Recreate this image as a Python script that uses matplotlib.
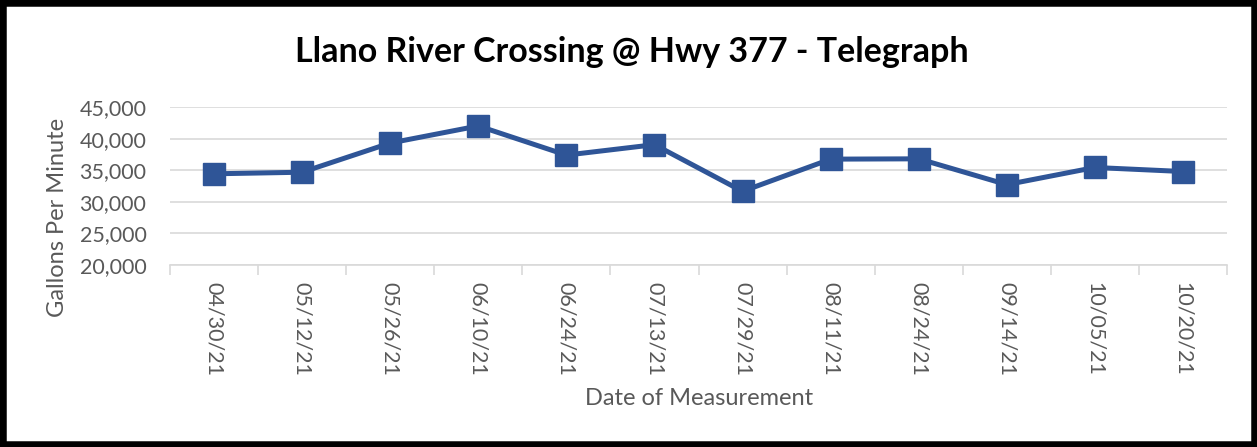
#! /usr/bin/env python3

"""
Flow at the Llano River crossing, gallons per minute by measurement date.
"""

import matplotlib.pyplot as plt
from matplotlib.patches import Rectangle

DATES = [
    '04/30/21', '05/12/21', '05/26/21', '06/10/21', '06/24/21', '07/13/21',
    '07/29/21', '08/11/21', '08/24/21', '09/14/21', '10/05/21', '10/20/21',
]
FLOW_GPM = [
    34430, 34680, 39300, 42000, 37390, 39040,
    31660, 36750, 36800, 32720, 35430, 34790,
]

LINE_COLOR = '#2F5597'
TEXT_GRAY = '#595959'
GRID_GRAY = '#D9D9D9'


def main() -> None:
    plt.rcParams['font.family'] = ['Lato', 'DejaVu Sans']

    fig = plt.figure(figsize=(12.57, 4.47), dpi=100)
    ax = fig.add_axes([170 / 1257, 1 - 265 / 447, (1227 - 170) / 1257, (265 - 107) / 447])

    x = list(range(len(DATES)))
    ax.plot(x, FLOW_GPM, color=LINE_COLOR, linewidth=3.6, marker='s',
            markersize=16, zorder=3)

    ax.set_xlim(-0.5, len(DATES) - 0.5)
    ax.set_ylim(20000, 45000)
    ax.set_yticks(range(20000, 45001, 5000))
    ax.set_yticklabels([f'{v:,}' for v in range(20000, 45001, 5000)])

    ax.set_xticks(x)
    ax.set_xticklabels(DATES, rotation=270)
    ax.set_xticks([i - 0.5 for i in range(len(DATES) + 1)], minor=True)
    ax.tick_params(axis='x', which='major', length=0, pad=12, labelsize=15.5, labelcolor=TEXT_GRAY)
    ax.tick_params(axis='x', which='minor', length=7, width=1.2, color=GRID_GRAY)
    ax.tick_params(axis='y', length=0, pad=17, labelsize=15.5, labelcolor=TEXT_GRAY)

    ax.grid(axis='y', color=GRID_GRAY, linewidth=1.2)
    ax.set_axisbelow(True)
    for side in ('top', 'left', 'right'):
        ax.spines[side].set_visible(False)
    ax.spines['bottom'].set_color(GRID_GRAY)
    ax.spines['bottom'].set_linewidth(1.2)

    ax.set_xlabel('Date of Measurement', fontsize=17, color=TEXT_GRAY, va='center')
    ax.set_ylabel('Gallons Per Minute', fontsize=17, color=TEXT_GRAY, va='center')
    # Excel places axis titles on its own; pin them where the original has them
    ax.xaxis.set_label_coords((699 - 170) / 1057, -(399 - 265) / 158)
    ax.yaxis.set_label_coords((58 - 170) / 1057, (265 - 217) / 158)

    fig.text(632 / 1257, 1 - 52 / 447, 'Llano River Crossing @ Hwy 377 - Telegraph',
             ha='center', va='center', fontsize=24.5, fontweight='bold', color='black')

    fig.patches.append(Rectangle((0, 0), 1, 1, transform=fig.transFigure,
                                 fill=False, edgecolor='black', linewidth=9))

    fig.savefig('out.png')


if __name__ == '__main__':
    main()
